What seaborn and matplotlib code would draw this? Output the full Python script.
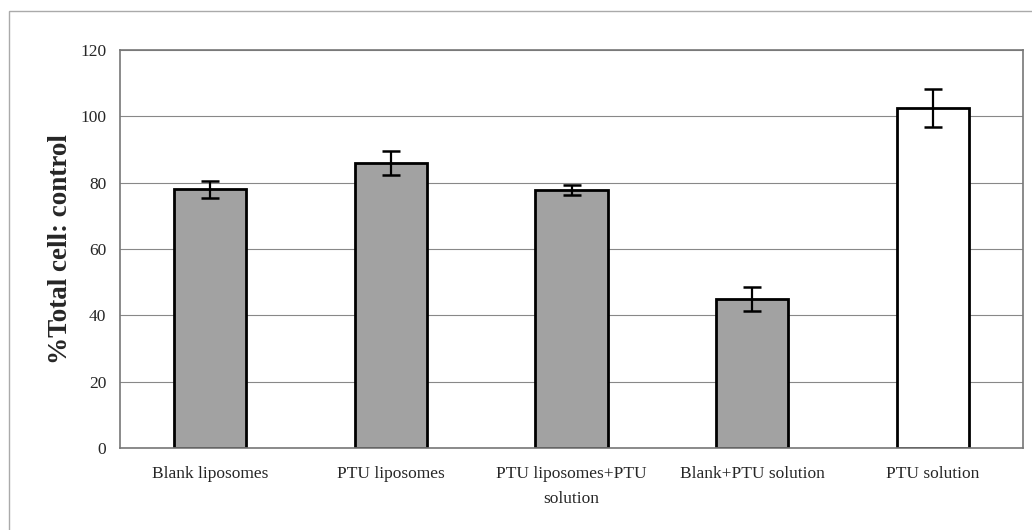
import pandas as pd
import matplotlib.pyplot as plt
import matplotlib.patches as mpatches
import seaborn as sns

# data
groups = ['Blank liposomes', 'PTU liposomes', 'PTU liposomes+PTU\nsolution',
          'Blank+PTU solution', 'PTU solution']
values = [78.0, 86.0, 77.7, 45.0, 102.6]
errors = [2.6, 3.6, 1.5, 3.6, 5.7]
fills = ['#a2a2a2', '#a2a2a2', '#a2a2a2', '#a2a2a2', '#ffffff']

df = pd.DataFrame({'group': groups, 'value': values, 'err': errors})

sns.set_style('white')
plt.rcParams['font.family'] = ['Liberation Serif', 'DejaVu Serif']

fig = plt.figure(figsize=(10.32, 5.30), dpi=100)
ax = fig.add_axes([0.1163, 0.1547, 0.8750, 0.7510])

sns.barplot(data=df, x='group', y='value', hue='group', palette=fills,
            width=0.4, edgecolor='black', linewidth=2, legend=False, ax=ax)

ax.errorbar(x=range(len(df)), y=df['value'], yerr=df['err'], fmt='none',
            ecolor='black', elinewidth=1.6, capsize=6.5, capthick=1.8)

ax.set_ylim(0, 120)
ax.set_xlim(-0.5, len(df) - 0.5)
ax.set_yticks(range(0, 121, 20))
ax.yaxis.grid(True, color='#888888', linewidth=0.8)
ax.set_axisbelow(True)

# tick marks between categories, like the original
ax.set_xticks([i - 0.5 for i in range(len(df) + 1)], minor=True)
ax.tick_params(axis='x', which='minor', length=5, direction='out', color='#777777')
ax.tick_params(axis='x', which='major', length=0, labelsize=12.5, pad=13)
ax.tick_params(axis='y', length=5, direction='out', color='#777777', labelsize=12.5, pad=5)
ax.set_xticks(range(len(df)))
ax.set_xticklabels(groups, linespacing=1.75)

for s in ax.spines.values():
    s.set_color('#777777')
    s.set_linewidth(1.2)

ax.set_xlabel('')
ax.set_ylabel('%Total cell: control', fontsize=19.5, fontweight='bold', labelpad=5)

# outer chart frame (right and bottom edges run off the picture)
fig.patches.append(mpatches.Rectangle((0.009, -0.05), 1.1, 0.05 + 0.979,
                                      transform=fig.transFigure, fill=False,
                                      edgecolor='#aaaaaa', linewidth=1))

plt.savefig('out.png', dpi=100)
